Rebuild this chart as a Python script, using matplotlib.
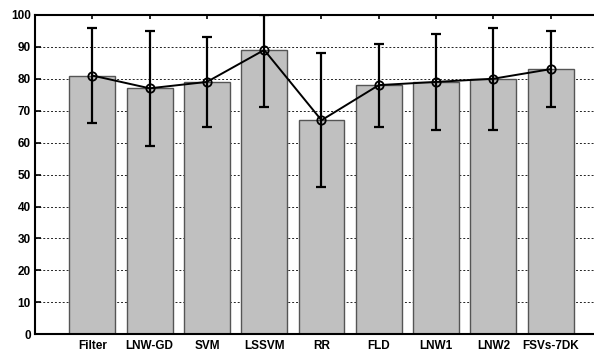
import numpy as np
import matplotlib
matplotlib.use("Agg")
import matplotlib.pyplot as plt

plt.rcParams["font.family"] = ["Liberation Sans", "DejaVu Sans"]

methods = ["Filter", "LNW-GD", "SVM", "LSSVM", "RR", "FLD", "LNW1", "LNW2", "FSVs-7DK"]
means = [81, 77, 79, 89, 67, 78, 79, 80, 83]
lower = [66, 59, 65, 71, 46, 65, 64, 64, 71]
upper = [96, 95, 93, 100, 88, 91, 94, 96, 95]

x = np.arange(1, len(methods) + 1)
means_a = np.array(means)
yerr = [means_a - np.array(lower), np.array(upper) - means_a]

fig = plt.figure(figsize=(5.94, 3.53), dpi=100)
ax = fig.add_axes([0.059, 0.053, 0.95, 0.905])

ax.bar(x, means, width=0.8, color="#c0c0c0", edgecolor="#555555", linewidth=1.0, zorder=2)
ax.errorbar(x, means, yerr=yerr, fmt="none", ecolor="black", elinewidth=1.6,
            capsize=3.8, capthick=1.6, zorder=3)
ax.plot(x, means, color="black", linewidth=1.4, marker="o", markersize=6,
        markerfacecolor="none", markeredgecolor="black", markeredgewidth=1.3, zorder=4)

ax.set_xlim(0, 9.85)
ax.set_ylim(0, 100)
ax.set_yticks(np.arange(0, 101, 10))
ax.set_xticks(x)
ax.set_xticklabels(methods, fontsize=8.5, fontweight="bold")
for lbl in ax.get_yticklabels():
    lbl.set_fontsize(8.5)
    lbl.set_fontweight("bold")

ax.yaxis.grid(True, color="#222222", linestyle=(0, (2, 2)), linewidth=0.7, zorder=0)
ax.set_axisbelow(True)
ax.tick_params(axis="both", direction="in", length=4, width=1.2, top=True)
ax.tick_params(axis="x", length=3, pad=4)
ax.tick_params(axis="y", pad=3)
ax.spines["right"].set_visible(False)
for side in ["left", "bottom", "top"]:
    ax.spines[side].set_linewidth(1.5)

fig.savefig("out.png", dpi=100)
